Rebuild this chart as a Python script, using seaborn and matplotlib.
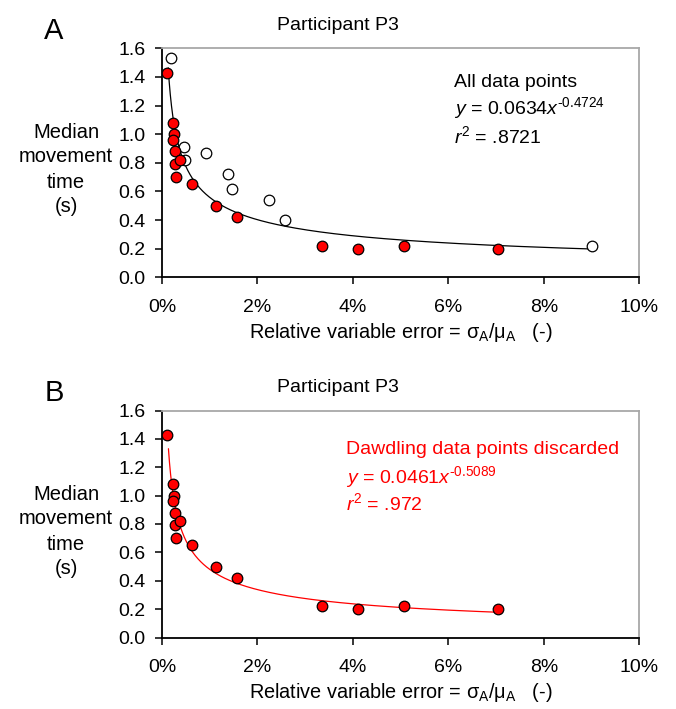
import numpy as np
import pandas as pd
import matplotlib
matplotlib.use("Agg")
import matplotlib.pyplot as plt
import seaborn as sns

# ---------------- data ----------------
# x: relative variable error in percent, y: median movement time (s)
kept_x = [0.11, 0.22, 0.25, 0.22, 0.27, 0.28, 0.37, 0.30, 0.63, 1.13, 1.58, 3.35, 4.10, 5.06, 7.04]
kept_y = [1.43, 1.08, 1.00, 0.96, 0.88, 0.79, 0.82, 0.70, 0.65, 0.50, 0.42, 0.22, 0.20, 0.22, 0.20]

dawdle_x = [0.19, 0.47, 0.49, 0.92, 1.38, 1.47, 2.24, 2.57, 9.01]
dawdle_y = [1.53, 0.91, 0.82, 0.87, 0.72, 0.62, 0.54, 0.40, 0.22]

# power-law fits shown on the chart: y = a * x^b (x as a fraction)
fit_a_coef, fit_a_exp = 0.0634, -0.4724
fit_b_coef, fit_b_exp = 0.0461, -0.5089
fit_a_range = (0.13, 9.01)   # percent
fit_b_range = (0.135, 7.04)  # percent

x_ticks = [0, 2, 4, 6, 8, 10]
x_tick_labels = ["0%", "2%", "4%", "6%", "8%", "10%"]
y_ticks = [0.0, 0.2, 0.4, 0.6, 0.8, 1.0, 1.2, 1.4, 1.6]
y_tick_labels = ["0.0", "0.2", "0.4", "0.6", "0.8", "1.0", "1.2", "1.4", "1.6"]

title = "Participant P3"
ylabel = "Median\nmovement\ntime\n(s)"
xlabel = r"Relative variable error = $\mathrm{σ_A/μ_A}$   (-)"

# ---------------- style ----------------
sns.set_style("ticks")
plt.rcParams["font.family"] = ["Liberation Sans", "DejaVu Sans"]
plt.rcParams["mathtext.fontset"] = "custom"
plt.rcParams["mathtext.rm"] = "Liberation Sans"
plt.rcParams["mathtext.it"] = "Liberation Sans:italic"
plt.rcParams["mathtext.bf"] = "Liberation Sans:bold"
plt.rcParams["text.color"] = "black"
plt.rcParams["axes.labelcolor"] = "black"
plt.rcParams["xtick.color"] = "black"
plt.rcParams["ytick.color"] = "black"

W, H = 676, 709
fig = plt.figure(figsize=(W / 100, H / 100), dpi=100)

FS = 14


def px_axes(left, top, right, bottom):
    return fig.add_axes([left / W, 1 - bottom / H, (right - left) / W, (bottom - top) / H])


def ftext(x, y, s, **kw):
    fig.text(x / W, 1 - y / H, s, **kw)


def style_axes(ax):
    ax.set_xlim(0, 10)
    ax.set_ylim(0, 1.6)
    ax.set_xticks(x_ticks)
    ax.set_xticklabels(x_tick_labels)
    ax.set_yticks(y_ticks)
    ax.set_yticklabels(y_tick_labels)
    ax.tick_params(axis="both", direction="out", length=4.8, width=1.1,
                   labelsize=FS, colors="black")
    ax.tick_params(axis="x", pad=11)
    ax.tick_params(axis="y", pad=7)
    for side in ("left", "bottom"):
        ax.spines[side].set_color("black")
        ax.spines[side].set_linewidth(1.3)
    for side in ("top", "right"):
        ax.spines[side].set_visible(True)
        ax.spines[side].set_color("#a8a8a8")
        ax.spines[side].set_linewidth(1.3)
    ax.set_xlabel("")
    ax.set_ylabel("")
    ax.grid(False)


def fit_curve(coef, expo, rng):
    xs = np.geomspace(rng[0], rng[1], 400)
    ys = coef * (xs / 100.0) ** expo
    return pd.DataFrame({"x": xs, "y": ys})


marker_size = 58

# ---------------- Panel A ----------------
axA = px_axes(162, 48.3, 639.3, 277.3)
cA = fit_curve(fit_a_coef, fit_a_exp, fit_a_range)
sns.lineplot(data=cA, x="x", y="y", ax=axA, color="black", lw=0.9, zorder=2, sort=False)
sns.scatterplot(x=dawdle_x, y=dawdle_y, ax=axA, color="white", edgecolor="black",
                s=marker_size, linewidth=0.9, zorder=3)
sns.scatterplot(x=kept_x, y=kept_y, ax=axA, color="red", edgecolor="black",
                s=marker_size, linewidth=0.9, zorder=4)
style_axes(axA)
axA.text(6.11, 1.328, "All data points", fontsize=FS, color="black", va="baseline")
axA.text(6.11, 1.138, r"$y$ = 0.0634$x^{\text{-0.4724}}$", fontsize=FS, color="black", va="baseline")
axA.text(6.11, 0.936, r"$r^{2}$ = .8721", fontsize=FS, color="black", va="baseline")

# ---------------- Panel B ----------------
axB = px_axes(162, 410.5, 639.3, 637.5)
cB = fit_curve(fit_b_coef, fit_b_exp, fit_b_range)
sns.lineplot(data=cB, x="x", y="y", ax=axB, color="red", lw=0.9, zorder=2, sort=False)
sns.scatterplot(x=kept_x, y=kept_y, ax=axB, color="red", edgecolor="black",
                s=marker_size, linewidth=0.9, zorder=4)
style_axes(axB)
axB.text(3.86, 1.291, "Dawdling data points discarded", fontsize=FS, color="red", va="baseline")
axB.text(3.86, 1.087, r"$y$ = 0.0461$x^{\text{-0.5089}}$", fontsize=FS, color="red", va="baseline")
axB.text(3.86, 0.899, r"$r^{2}$ = .972", fontsize=FS, color="red", va="baseline")

# ---------------- figure texts ----------------
for dy, letter in ((0, "A"), (362, "B")):
    ftext(54, 31 + dy, letter, fontsize=21, ha="center", va="center")
    ftext(338, 30 + dy, title, fontsize=FS, ha="center", va="baseline")
    ftext(66, 169.5 + dy, ylabel, fontsize=14.5, ha="center", va="center",
          multialignment="center", linespacing=1.4)
for dy in (0, 360):
    ftext(400.5, 338.3 + dy, xlabel, fontsize=14.3, ha="center", va="baseline")

fig.savefig("out.png", dpi=100)
